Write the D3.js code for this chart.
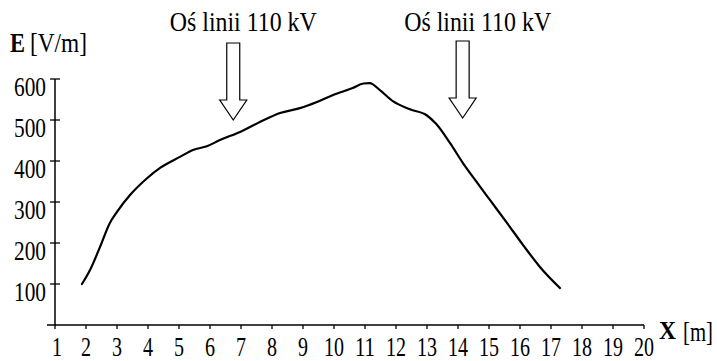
<!DOCTYPE html>
<html>
<head>
<meta charset="utf-8">
<script src="https://cdn.jsdelivr.net/npm/d3@7"></script>
<style>
  html, body { margin: 0; padding: 0; background: #fff; }
  svg { display: block; }
  text { font-family: "Liberation Serif", "Times New Roman", serif; fill: #000; }
</style>
</head>
<body>
<script>
// ---- data ----
const distX = [1.87, 2.13, 2.45, 2.77, 3.0, 3.42, 3.97, 4.39, 5.03, 5.45, 5.9, 6.32, 6.97, 7.61, 8.26, 8.9, 9.45, 9.97, 10.6, 10.95, 11.15, 11.48, 11.9, 12.45, 13.0, 13.3, 13.74, 14.16, 14.6, 15.03, 15.58, 16.1, 16.65, 17.29];
const fieldE = [100, 134, 190, 249, 276, 317, 358, 383, 410, 427, 436, 451, 471, 495, 517, 529, 544, 561, 578, 589, 590, 573, 546, 526, 511, 490, 444, 395, 349, 305, 249, 195, 141, 90];
const xTicks = [1, 2, 3, 4, 5, 6, 7, 8, 9, 10, 11, 12, 13, 14, 15, 16, 17, 18, 19, 20];
const yTicks = [100, 200, 300, 400, 500, 600];
const lineAxisX = [6.75, 14.15];
const lineAxisLabels = ["Oś linii 110 kV", "Oś linii 110 kV"];
const yTitle = ["E", "[V/m]"];
const xTitle = ["X", "[m]"];

// ---- layout ----
const W = 717, H = 361;
const svg = d3.select("body").append("svg").attr("width", W).attr("height", H);
svg.append("rect").attr("width", W).attr("height", H).attr("fill", "#fff");

const x = d3.scaleLinear().domain([1, 20]).range([55, 644]);
const y = d3.scaleLinear().domain([0, 600]).range([325, 79]);

// Y axis
svg.append("line").attr("x1", 55).attr("x2", 55).attr("y1", y(600)).attr("y2", 325.5)
  .attr("stroke", "#000").attr("stroke-width", 1.5);
svg.selectAll(".ytick").data(yTicks).enter().append("line")
  .attr("x1", 50).attr("x2", 60).attr("y1", d => y(d)).attr("y2", d => y(d))
  .attr("stroke", "#000").attr("stroke-width", 1.3);
svg.selectAll(".ylab").data(yTicks).enter().append("text")
  .attr("x", 46).attr("y", d => y(d) + 17)
  .attr("text-anchor", "end").attr("font-size", 28)
  .attr("textLength", 32).attr("lengthAdjust", "spacingAndGlyphs")
  .text(d => d);

// X axis
svg.append("line").attr("x1", 47).attr("x2", 644).attr("y1", 325).attr("y2", 325)
  .attr("stroke", "#000").attr("stroke-width", 1.5);
svg.selectAll(".xtick").data(xTicks).enter().append("line")
  .attr("x1", d => x(d)).attr("x2", d => x(d)).attr("y1", 325).attr("y2", 329)
  .attr("stroke", "#000").attr("stroke-width", 1.3);
svg.selectAll(".xlab").data(xTicks).enter().append("text")
  .attr("x", d => x(d) + (d === 1 ? 2 : 0)).attr("y", 356)
  .attr("text-anchor", "middle").attr("font-size", 27)
  .attr("textLength", d => String(d).length * 10).attr("lengthAdjust", "spacingAndGlyphs")
  .text(d => d);

// Axis titles
svg.append("text").attr("x", 10).attr("y", 52).attr("font-size", 27).attr("font-weight", "bold")
  .attr("textLength", 15).attr("lengthAdjust", "spacingAndGlyphs").text(yTitle[0]);
svg.append("text").attr("x", 30).attr("y", 52).attr("font-size", 28)
  .attr("textLength", 57).attr("lengthAdjust", "spacingAndGlyphs").text(yTitle[1]);
svg.append("text").attr("x", 659).attr("y", 339).attr("font-size", 25).attr("font-weight", "bold")
  .attr("textLength", 17).attr("lengthAdjust", "spacingAndGlyphs").text(xTitle[0]);
const mUnit = svg.append("text").attr("x", 0).attr("y", 0).attr("font-size", 27).text(xTitle[1]);
const mLen = mUnit.node().getComputedTextLength() || 39;
mUnit.attr("transform", `translate(683,341) scale(${30 / mLen},1)`);

// Curve
const pts = distX.map((d, i) => [d, fieldE[i]]);
svg.append("path").datum(pts)
  .attr("fill", "none").attr("stroke", "#000").attr("stroke-width", 2.2)
  .attr("stroke-linejoin", "round").attr("stroke-linecap", "round")
  .attr("d", d3.line().x(d => x(d[0])).y(d => y(d[1])).curve(d3.curveMonotoneX));

// Arrows + labels
const arrowTop = [43, 41], arrowTip = [120, 118], textOff = [10, 15];
lineAxisX.forEach((ax, i) => {
  const cx = x(ax);
  const top = arrowTop[i], tip = arrowTip[i], base = tip - 20;
  const sw = 6.5, hw = 13.5;
  const p = [[cx - sw, top], [cx + sw, top], [cx + sw, base], [cx + hw, base], [cx, tip],
             [cx - hw, base], [cx - sw, base]];
  svg.append("path").attr("d", "M" + p.map(q => q.join(",")).join("L") + "Z")
    .attr("fill", "#fff").attr("stroke", "#000").attr("stroke-width", 1.2);
  svg.append("text").attr("x", cx + textOff[i]).attr("y", 31)
    .attr("text-anchor", "middle").attr("font-size", 27)
    .attr("textLength", 147).attr("lengthAdjust", "spacingAndGlyphs")
    .text(lineAxisLabels[i]);
});
</script>
</body>
</html>
